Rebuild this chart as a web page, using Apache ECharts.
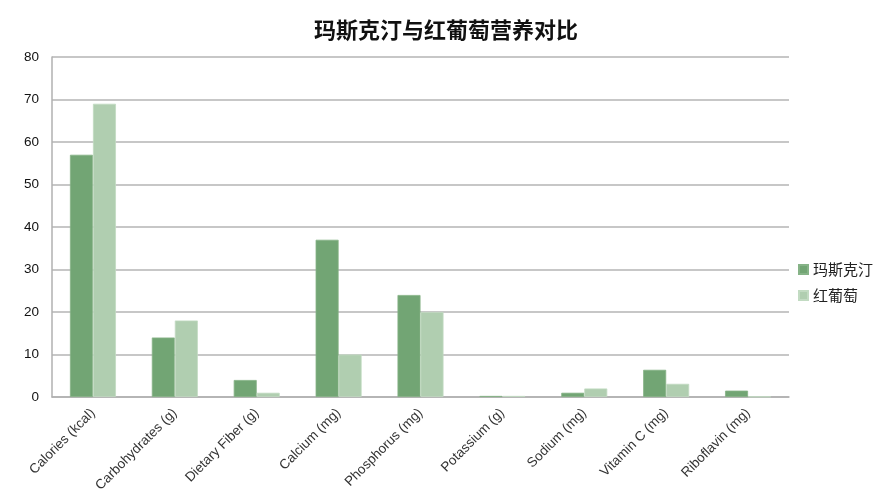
<!DOCTYPE html>
<html lang="zh">
<head>
    <meta charset="UTF-8">
    <title>玛斯克汀与红葡萄营养对比</title>
    <style>
        html, body { margin: 0; padding: 0; background: #fff; }
        #main { width: 892px; height: 502px; }
    </style>
</head>
<body>
<div id="main"></div>
<script src="https://cdn.jsdelivr.net/npm/echarts@6/dist/echarts.min.js"></script>
<script>
    // 数据
    var categories = ['Calories (kcal)', 'Carbohydrates (g)', 'Dietary Fiber (g)', 'Calcium (mg)',
        'Phosphorus (mg)', 'Potassium (g)', 'Sodium (mg)', 'Vitamin C (mg)', 'Riboflavin (mg)'];
    var muscadine = [57, 14, 4, 37, 24, 0.25, 1, 6.4, 1.5];
    var redGrape = [69, 18, 1, 10, 20, 0.25, 2, 3.1, 0.1];
    var seriesNames = ['玛斯克汀', '红葡萄'];

    var chart = echarts.init(document.getElementById('main'));

    var option = {
        animation: false,
        title: {
            text: '玛斯克汀与红葡萄营养对比',
            left: 'center',
            top: 14,
            textStyle: {
                color: '#111',
                fontWeight: 'bold',
                fontSize: 22,
                fontFamily: 'Noto Sans CJK SC'
            }
        },
        legend: {
            orient: 'vertical',
            left: 793,
            top: 257,
            itemWidth: 9,
            itemHeight: 9,
            itemGap: 11,
            icon: 'rect',
            textStyle: {
                color: '#222',
                fontSize: 15,
                fontFamily: 'Noto Sans CJK SC'
            },
            data: seriesNames
        },
        grid: {
            left: 52,
            right: 103,
            top: 57,
            bottom: 105,
            containLabel: false
        },
        xAxis: {
            type: 'category',
            data: categories,
            axisLine: { lineStyle: { color: '#b0b0b0', width: 1.5 } },
            axisTick: { show: false },
            axisLabel: {
                rotate: 45,
                interval: 0,
                color: '#333',
                fontSize: 13.5,
                fontFamily: 'Liberation Sans',
                margin: 14
            }
        },
        yAxis: {
            type: 'value',
            min: 0,
            max: 80,
            interval: 10,
            axisLine: { show: true, lineStyle: { color: '#b0b0b0', width: 1.5 } },
            axisTick: { show: false },
            axisLabel: {
                color: '#111',
                fontSize: 13.5,
                fontFamily: 'Liberation Sans',
                margin: 13
            },
            splitLine: { lineStyle: { color: '#b4b4b4', width: 1.5 } }
        },
        series: [
            {
                name: seriesNames[0],
                type: 'bar',
                barWidth: 23,
                barGap: '0%',
                itemStyle: { color: '#72a574', borderColor: '#86b387', borderWidth: 0.8 },
                data: muscadine
            },
            {
                name: seriesNames[1],
                type: 'bar',
                barWidth: 23,
                itemStyle: { color: '#b0ceb0', borderColor: '#c2dbc2', borderWidth: 0.8 },
                data: redGrape
            }
        ]
    };

    chart.setOption(option);
</script>
</body>
</html>
